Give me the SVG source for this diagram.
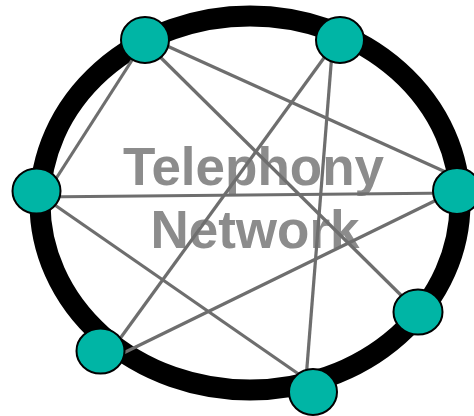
<svg xmlns="http://www.w3.org/2000/svg" width="474" height="416" viewBox="0 0 474 416">
<style>
.ring{fill:none;stroke:#000;stroke-width:21}
.label{font-family:"Liberation Sans",Arial,sans-serif;font-weight:bold;font-size:53px;fill:#8c8c8c;text-anchor:middle}
.edge{stroke:#6e6e6e;stroke-width:3.2;fill:none}
.node{fill:#00b5a5;stroke:#000;stroke-width:2}
</style>
<rect width="474" height="416" fill="#fff"/>
<ellipse class="ring" cx="250" cy="203" rx="210" ry="187"/>
<g id="title">
<text class="label" x="253.5" y="185">Telephony</text>
<text class="label" x="255" y="248">Network</text>
</g>
<g id="connectors">
<line class="edge" x1="145" y1="40" x2="50" y2="188"/>
<line class="edge" x1="145" y1="36" x2="450" y2="174"/>
<line class="edge" x1="145" y1="42" x2="418" y2="312"/>
<line class="edge" x1="337" y1="40" x2="111" y2="351"/>
<line class="edge" x1="333" y1="40" x2="305" y2="392"/>
<line class="edge" x1="36" y1="197" x2="457" y2="193"/>
<line class="edge" x1="36" y1="192" x2="313" y2="384"/>
<line class="edge" x1="105" y1="362" x2="457" y2="190"/>
</g>
<g id="n1"><ellipse class="node" cx="145" cy="40" rx="24" ry="23"/></g>
<g id="n2"><ellipse class="node" cx="340" cy="40" rx="24" ry="23"/></g>
<g id="n3"><ellipse class="node" cx="36.5" cy="191" rx="24" ry="22.5"/></g>
<g id="n4"><ellipse class="node" cx="457" cy="191" rx="24" ry="23"/></g>
<g id="n5"><ellipse class="node" cx="418" cy="312" rx="24.5" ry="22.5"/></g>
<g id="n6"><ellipse class="node" cx="100.5" cy="351" rx="24" ry="22.5"/></g>
<g id="n7"><ellipse class="node" cx="313" cy="392" rx="24" ry="23"/></g>
</svg>
